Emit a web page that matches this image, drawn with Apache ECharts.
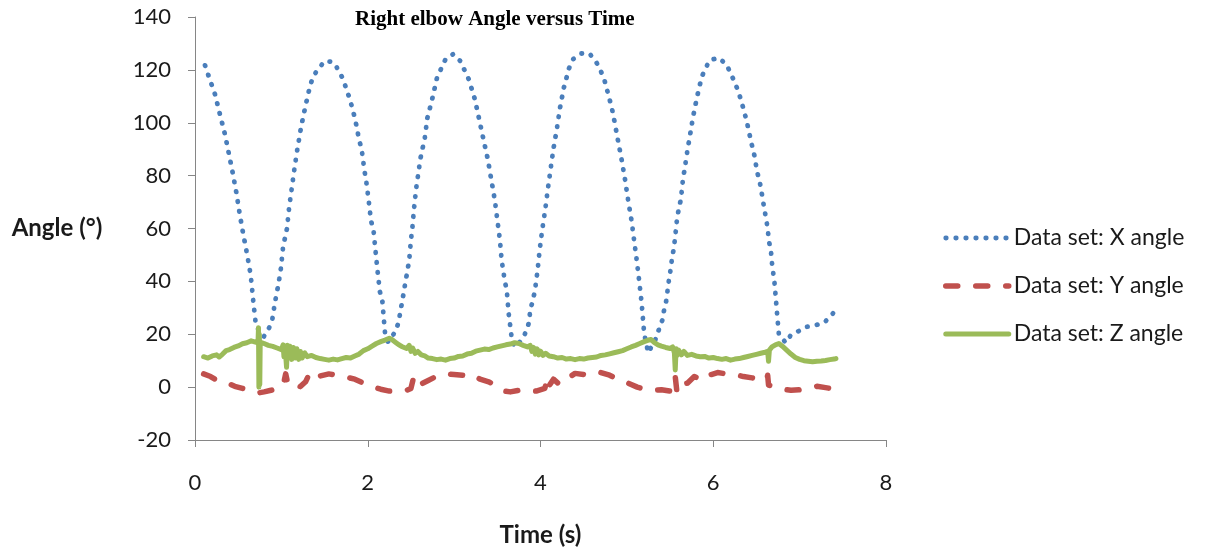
<!DOCTYPE html>
<html>
<head>
<meta charset="utf-8">
<script src="https://cdn.jsdelivr.net/npm/echarts@6/dist/echarts.min.js"></script>
<style>
html,body{margin:0;padding:0;background:#fff;}
#chart{width:1208px;height:552px;}
</style>
</head>
<body>
<div id="chart"></div>
<script>
const chartTitle = 'Right elbow Angle versus Time';
const seriesNames = ['Data set: X angle', 'Data set: Y angle', 'Data set: Z angle'];
const yTicks = { min: -20, max: 140, interval: 20 };
const xTicks = { min: 0, max: 8, interval: 2 };

// [time (s), angle (deg)]
const xAngle = [
[0.116,121.7],[0.154,118],[0.231,110.8],[0.29,103],[0.347,95.6],[0.394,88],[0.44,80.5],[0.482,73],[0.52,65],[0.56,57.6],
[0.605,50],[0.645,42.3],[0.68,30.8],[0.694,26.8],[0.706,23],[0.795,19],[0.853,22],[0.895,25.7],[0.915,29.8],[0.935,33.6],
[0.957,37.4],[0.976,41],[0.995,45],[1.018,52.5],[1.042,56.5],[1.065,60],[1.09,68],[1.122,75.6],[1.154,83.3],[1.19,91],
[1.23,98.7],[1.277,106],[1.33,113.7],[1.367,117.5],[1.43,120.5],[1.505,123.4],[1.6,122.9],[1.667,119.7],[1.72,116],[1.755,112.5],
[1.794,108.8],[1.825,105],[1.855,101.2],[1.9,93.6],[1.93,89.8],[1.96,82.3],[1.98,78.5],[2.01,70.8],[2.037,63.1],[2.067,59.2],
[2.09,51.5],[2.114,43.8],[2.14,36.2],[2.17,32.3],[2.18,28.2],[2.19,24.3],[2.2,20.5],[2.236,17.1],[2.326,21.3],[2.36,25],
[2.38,29],[2.4,32.6],[2.42,36.5],[2.46,44.2],[2.48,48],[2.5,55.7],[2.515,59.6],[2.535,67.3],[2.56,75],[2.577,78.9],
[2.61,86.5],[2.635,90.4],[2.66,94.1],[2.69,101.8],[2.72,105.6],[2.75,109.5],[2.8,116.8],[2.85,120.5],[2.9,124],[2.99,126],
[3.07,123.4],[3.17,116.4],[3.24,108.9],[3.29,101.3],[3.34,93.6],[3.39,86.2],[3.43,78.5],[3.47,71],[3.5,63.3],[3.53,55.6],
[3.55,48],[3.585,40.5],[3.61,36.4],[3.62,32.5],[3.63,28.2],[3.645,24.3],[3.66,20.5],[3.67,16.8],[3.72,15.2],[3.78,18],
[3.84,21.3],[3.87,25],[3.88,29],[3.91,32.6],[3.935,36.4],[3.966,44.1],[3.99,51.8],[4.02,59.5],[4.055,67.2],[4.085,74.9],
[4.117,82.5],[4.15,90.2],[4.19,97.8],[4.225,105.5],[4.27,113.2],[4.33,120.6],[4.38,124.1],[4.47,126.2],[4.565,126.2],[4.64,123.3],
[4.695,119.8],[4.74,116.2],[4.77,112.5],[4.8,108.8],[4.83,104.9],[4.853,101.1],[4.896,93.5],[4.94,85.9],[4.98,78.3],[5.015,70.6],
[5.054,63],[5.085,55.2],[5.116,47.5],[5.143,40],[5.17,32.1],[5.18,28.2],[5.19,24.3],[5.2,20.4],[5.247,13],[5.33,18],
[5.37,21.7],[5.41,25.3],[5.43,29],[5.455,32.5],[5.486,40.3],[5.505,44.2],[5.52,48],[5.54,51.9],[5.556,55.8],[5.58,63.4],
[5.6,67.3],[5.625,71],[5.65,78.8],[5.67,82.7],[5.687,86.5],[5.705,90.4],[5.725,94.1],[5.745,98],[5.764,101.8],[5.787,105.6],
[5.81,109.4],[5.837,113.2],[5.864,117],[5.906,120.5],[5.968,123.8],[6.065,124.5],[6.154,122],[6.204,118.5],[6.254,114.9],[6.296,111.3],
[6.33,107.6],[6.36,104],[6.39,100.2],[6.415,96.4],[6.44,92.5],[6.47,88.7],[6.49,85],[6.51,81.2],[6.54,77.4],[6.56,73.6],
[6.58,69.7],[6.6,65.9],[6.62,62.1],[6.635,58.3],[6.65,54.4],[6.67,50.7],[6.68,46.9],[6.695,43],[6.71,39.2],[6.72,35.3],
[6.73,31.4],[6.74,27.3],[6.75,23.6],[6.76,19.8],[6.84,16.8],[6.9,19.8],[6.99,21.2],[7.08,22.8],[7.18,23.4],[7.28,24.3],
[7.35,26.5],[7.43,29.6]
];

const yAngle = [
[0.10,5.0],[0.18,4.0],[0.25,2.6],[0.33,2.2],[0.40,1.2],[0.46,0.3],[0.55,-0.5],[0.62,-1.2],[0.68,-1.8],[0.73,-2.2],
[0.80,-1.8],[0.88,-1.2],[0.95,-0.5],[1.00,0],[1.03,2.0],[1.05,5.0],[1.07,2.0],[1.10,0.5],[1.15,1.2],[1.22,0.2],
[1.28,2.0],[1.33,5.5],[1.38,6.0],[1.45,4.2],[1.55,5.0],[1.65,4.5],[1.75,3.8],[1.85,3.0],[1.95,1.5],[2.05,0.2],
[2.15,-0.8],[2.25,-1.5],[2.35,-1.6],[2.45,-1.2],[2.50,-0.5],[2.53,3.5],[2.56,0.5],[2.62,1.2],[2.70,2.5],[2.80,4.2],
[2.90,5.0],[3.00,4.8],[3.10,4.5],[3.20,5.0],[3.30,3.0],[3.40,2.0],[3.50,0.5],[3.58,-1.5],[3.65,-1.8],[3.75,-1.2],
[3.85,-1.6],[3.95,-1.5],[4.05,-0.5],[4.08,3.5],[4.10,0.5],[4.15,3.0],[4.22,1.0],[4.30,3.0],[4.40,5.2],[4.50,4.8],
[4.60,4.5],[4.70,5.5],[4.80,4.5],[4.88,3.2],[4.95,2.5],[5.05,1.0],[5.12,0],[5.20,-0.8],[5.30,-1.2],[5.40,-1.0],
[5.50,-1.5],[5.54,-0.5],[5.56,4.0],[5.58,-2.0],[5.62,1.0],[5.70,1.5],[5.78,4.0],[5.88,2.5],[5.95,4.5],[6.05,5.5],
[6.15,5.0],[6.25,4.8],[6.35,4.0],[6.45,3.5],[6.55,2.5],[6.62,3.0],[6.63,4.5],[6.64,0.8],[6.70,0.2],[6.80,-0.8],
[6.90,-1.2],[7.00,-1.0],[7.10,-0.5],[7.20,0.3],[7.30,-0.2],[7.38,-0.6]
];

const zAngle = [
[0.10,11.5],[0.15,11.0],[0.20,11.8],[0.25,12.2],[0.28,11.4],[0.32,12.5],[0.36,13.8],[0.40,14.2],[0.45,15.0],[0.50,15.6],
[0.55,16.4],[0.60,16.8],[0.65,17.5],[0.70,17.0],[0.73,17.3],[0.735,22.5],[0.74,0],[0.745,20],[0.75,1],[0.755,17],
[0.77,16.8],[0.80,16.5],[0.85,15.8],[0.90,15.4],[0.95,14.8],[1.00,14.2],[1.02,16.0],[1.03,11.5],[1.04,15.5],[1.05,12],
[1.06,7.5],[1.07,15.8],[1.08,11],[1.10,15.5],[1.12,10.5],[1.14,15],[1.16,11],[1.18,14.5],[1.20,10.5],[1.22,13.5],
[1.24,11],[1.27,13],[1.30,11.5],[1.35,12],[1.40,11.2],[1.45,10.8],[1.50,10.5],[1.55,10.2],[1.60,10.6],[1.65,10.3],
[1.70,10.8],[1.75,11.2],[1.80,11.0],[1.85,11.8],[1.90,12.5],[1.95,13.8],[2.00,14.5],[2.05,15.5],[2.10,16.5],[2.15,17.2],
[2.20,17.8],[2.25,18.5],[2.28,18.0],[2.32,17.0],[2.36,16.0],[2.40,15.3],[2.45,14.6],[2.48,15.8],[2.50,13.5],[2.52,14.8],
[2.55,12.8],[2.58,13.5],[2.62,12.2],[2.66,11.8],[2.70,11.0],[2.75,10.8],[2.80,10.4],[2.85,10.6],[2.90,10.2],[2.95,10.8],
[3.00,11.0],[3.05,11.6],[3.10,11.8],[3.15,12.5],[3.20,12.8],[3.25,13.6],[3.30,14.0],[3.35,14.4],[3.40,14.2],[3.45,14.8],
[3.50,15.2],[3.55,15.6],[3.60,16.0],[3.65,16.3],[3.70,16.8],[3.75,16.5],[3.80,15.8],[3.85,15.2],[3.88,15.8],[3.90,13.5],
[3.92,15.0],[3.94,12.5],[3.96,14.5],[3.98,12.2],[4.00,13.6],[4.03,12.0],[4.06,12.8],[4.10,11.8],[4.15,11.5],[4.20,11.0],
[4.25,11.2],[4.30,10.6],[4.35,10.8],[4.40,10.4],[4.45,10.8],[4.50,10.6],[4.55,11.0],[4.60,11.2],[4.65,11.4],[4.70,12.0],
[4.75,12.2],[4.80,12.6],[4.85,13.0],[4.90,13.4],[4.95,13.8],[5.00,14.5],[5.05,15.2],[5.10,15.8],[5.15,16.5],[5.20,17.2],
[5.25,17.8],[5.28,18.0],[5.32,16.8],[5.36,16.0],[5.40,15.5],[5.45,15.0],[5.50,14.6],[5.53,15.2],[5.55,13.0],[5.56,6.5],
[5.57,14.5],[5.58,12.0],[5.60,14.0],[5.63,12.2],[5.66,13.5],[5.70,12.0],[5.75,12.4],[5.80,11.8],[5.85,11.5],[5.90,11.6],
[5.95,11.0],[6.00,11.2],[6.05,10.8],[6.10,10.5],[6.15,10.8],[6.20,10.2],[6.25,10.6],[6.30,10.8],[6.35,11.2],[6.40,11.6],
[6.45,12.0],[6.50,12.4],[6.55,12.8],[6.60,13.2],[6.63,13.5],[6.64,9.8],[6.65,14.0],[6.68,15.2],[6.72,16.0],[6.76,16.5],
[6.80,15.5],[6.85,14.0],[6.90,12.5],[6.95,11.2],[7.00,10.5],[7.05,10.0],[7.10,9.8],[7.15,9.6],[7.20,9.8],[7.25,9.9],
[7.30,10.1],[7.35,10.4],[7.40,10.6],[7.42,10.8]
];

const colors = ['#4a7ebb', '#c0504d', '#9bbb59'];
const lineStyles = [
  { color: colors[0], width: 4.8, type: [0.5, 9.5], cap: 'round' },
  { color: colors[1], width: 5.5, type: [12, 18], cap: 'round', join: 'round' },
  { color: colors[2], width: 5, type: 'solid', cap: 'round', join: 'round' }
];
const font = 'Lato, Calibri, "Noto Sans", sans-serif';

const chart = echarts.init(document.getElementById('chart'), null, { renderer: 'canvas' });
const axisCommon = {
  axisLine: { show: true, onZero: false, lineStyle: { color: '#868686', width: 1 } },
  axisTick: { show: true, inside: false, length: 7, lineStyle: { color: '#868686' } },
  splitLine: { show: false },
  axisLabel: { color: '#1a1a1a', fontFamily: font, fontSize: 22 }
};
chart.setOption({
  backgroundColor: '#ffffff',
  animation: false,
  title: {
    text: chartTitle,
    left: 350, top: 4,
    textStyle: { fontFamily: '"Liberation Serif", "Times New Roman", serif', fontWeight: 'bold', fontSize: 21, color: '#000' }
  },
  legend: {
    orient: 'vertical',
    left: 938, top: 221,
    itemWidth: 63, itemHeight: 14, itemGap: 24,
    itemStyle: { opacity: 0 },
    textStyle: { fontFamily: font, fontSize: 23, color: '#1a1a1a', lineHeight: 24 },
    data: seriesNames.map((n, i) => ({ name: n, lineStyle: Object.assign({}, lineStyles[i]) }))
  },
  grid: { left: 195, right: 322, top: 17, bottom: 112, containLabel: false, outerBoundsMode: 'none' },
  xAxis: Object.assign({}, axisCommon, {
    type: 'value', min: xTicks.min, max: xTicks.max, interval: xTicks.interval,
    name: 'Time (s)', nameLocation: 'middle', nameGap: 83,
    nameTextStyle: { fontFamily: font, fontSize: 24, fontWeight: 'bold', color: '#1a1a1a' },
    axisLabel: Object.assign({}, axisCommon.axisLabel, { margin: 32 })
  }),
  yAxis: Object.assign({}, axisCommon, {
    type: 'value', min: yTicks.min, max: yTicks.max, interval: yTicks.interval,
    name: 'Angle (°)', nameLocation: 'middle', nameGap: 138, nameRotate: 0,
    nameTextStyle: { fontFamily: font, fontSize: 24, fontWeight: 'bold', color: '#1a1a1a', align: 'center', verticalAlign: 'middle' },
    axisLabel: Object.assign({}, axisCommon.axisLabel, { margin: 24 })
  }),
  series: [
    { name: seriesNames[0], type: 'line', data: xAngle, symbol: 'none', showSymbol: false,
      lineStyle: lineStyles[0], itemStyle: { color: colors[0] } },
    { name: seriesNames[1], type: 'line', data: yAngle, symbol: 'none', showSymbol: false,
      lineStyle: lineStyles[1], itemStyle: { color: colors[1] } },
    { name: seriesNames[2], type: 'line', data: zAngle, symbol: 'none', showSymbol: false,
      lineStyle: lineStyles[2], itemStyle: { color: colors[2] } }
  ]
});
</script>
</body>
</html>
